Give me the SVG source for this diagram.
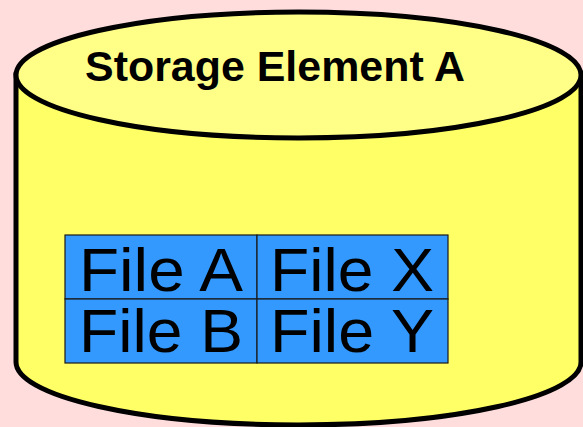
<svg xmlns="http://www.w3.org/2000/svg" width="583" height="427" viewBox="0 0 583 427">
<style>
.body{fill:#FFFF66;stroke:#000;stroke-width:5}
.top{fill:#FFFF88;stroke:#000;stroke-width:5}
.cell{fill:#3399FF;stroke:#1a1a1a;stroke-width:1.2}
.title{font-family:"Liberation Sans",Arial,sans-serif;font-weight:bold;font-size:42px;fill:#000}
.file{font-family:"Liberation Sans",Arial,sans-serif;font-size:61px;fill:#000}
</style>
<rect width="583" height="427" fill="#FFDDDD"/>
<g id="storage-element-a">
<path class="body" d="M16,75 L16,362 A282.5,63 0 0 0 581,362 L581,75 Z"/>
<ellipse class="top" cx="298.5" cy="75" rx="282.5" ry="63"/>
<text class="title" x="85" y="81" textLength="380" lengthAdjust="spacingAndGlyphs">Storage Element A</text>
</g>
<g id="file-a"><rect class="cell" x="65" y="235" width="192" height="64"/><text class="file" x="79" y="291" textLength="164" lengthAdjust="spacingAndGlyphs">File A</text></g>
<g id="file-x"><rect class="cell" x="257" y="235" width="191" height="64"/><text class="file" x="270" y="291" textLength="164" lengthAdjust="spacingAndGlyphs">File X</text></g>
<g id="file-b"><rect class="cell" x="65" y="299" width="192" height="64"/><text class="file" x="79" y="352" textLength="164" lengthAdjust="spacingAndGlyphs">File B</text></g>
<g id="file-y"><rect class="cell" x="257" y="299" width="191" height="64"/><text class="file" x="270" y="352" textLength="164" lengthAdjust="spacingAndGlyphs">File Y</text></g>
<g id="connectors"/>
</svg>
